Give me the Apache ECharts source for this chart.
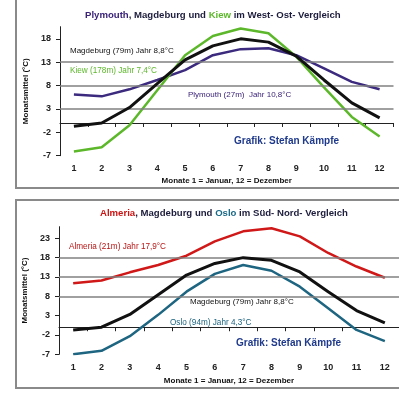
<!DOCTYPE html>
<html>
<head>
<meta charset="utf-8">
<script src="https://cdn.jsdelivr.net/npm/echarts@6/dist/echarts.min.js"></script>
<style>
  html, body { margin: 0; padding: 0; background: #fff; }
  #chart { width: 399px; height: 400px; }
</style>
</head>
<body>
<div id="chart"></div>
<script>
// Monate
var months = ['1', '2', '3', '4', '5', '6', '7', '8', '9', '10', '11', '12'];

// oben: West-Ost
var plymouth = [6.1, 5.7, 7.2, 9.2, 11.3, 14.5, 15.8, 16.0, 14.5, 11.7, 8.8, 7.2];
var magdeburg = [-0.7, 0.0, 3.3, 8.4, 13.5, 16.5, 18.0, 17.3, 14.3, 9.2, 4.3, 1.1];
var kiew = [-6.1, -5.2, -0.5, 7.0, 14.5, 18.6, 20.2, 19.2, 14.2, 7.6, 1.3, -2.9];

// unten: Sued-Nord
var almeria = [11.4, 12.1, 14.2, 16.1, 18.5, 22.2, 24.8, 25.6, 23.5, 19.2, 15.7, 12.8];
var oslo = [-7.0, -6.1, -2.3, 3.2, 9.2, 13.8, 16.1, 14.6, 10.5, 4.9, -0.7, -3.6];

// Hilfslinien
var topGridLines = [3, 8, 13];
var bottomGridLines = [8, 13, 18];

var FONT = '"Liberation Sans", Arial, sans-serif';
var DARK = '#1c1c3c';

var chart = echarts.init(document.getElementById('chart'), null, { renderer: 'canvas' });

function hLines(vals) {
  return {
    silent: true,
    symbol: 'none',
    label: { show: false },
    lineStyle: { color: '#808080', width: 1.5, type: 'solid' },
    data: vals.map(function (v) { return { yAxis: v }; })
  };
}

function xAxisCfg(gridIndex, nameGap, labelMargin) {
  return {
    gridIndex: gridIndex,
    type: 'category',
    data: months,
    boundaryGap: true,
    name: 'Monate 1 = Januar, 12 = Dezember',
    nameLocation: 'middle',
    nameGap: nameGap,
    nameTextStyle: { fontFamily: FONT, fontSize: 8, fontWeight: 'bold', color: '#111' },
    axisLine: { lineStyle: { color: '#222', width: 1 } },
    axisTick: { show: true, length: 4, lineStyle: { color: '#222' } },
    axisLabel: { fontFamily: FONT, fontSize: 9, fontWeight: 'bold', color: '#222', margin: labelMargin },
    splitLine: { show: false }
  };
}

function yAxisCfg(gridIndex, max) {
  return {
    gridIndex: gridIndex,
    type: 'value',
    min: -7,
    max: max,
    interval: 5,
    name: 'Monatsmittel (°C)',
    nameLocation: 'middle',
    nameGap: 17,
    nameTextStyle: { fontFamily: FONT, fontSize: 8, fontWeight: 'bold', color: '#111' },
    axisLine: { show: true, lineStyle: { color: '#222', width: 1 } },
    axisTick: { show: true, length: 4, lineStyle: { color: '#222' } },
    axisLabel: { fontFamily: FONT, fontSize: 9, fontWeight: 'bold', color: '#222', margin: 9, showMaxLabel: false },
    splitLine: { show: false }
  };
}

function lineSeries(name, data, color, width, idx, z) {
  return {
    name: name,
    type: 'line',
    xAxisIndex: idx,
    yAxisIndex: idx,
    data: data,
    symbol: 'none',
    smooth: false,
    z: z,
    lineStyle: { color: color, width: width },
    itemStyle: { color: color }
  };
}

function note(text, x, y, color, size, bold) {
  return {
    type: 'text',
    left: x,
    top: y,
    z: 50,
    style: {
      text: text,
      fill: color,
      font: (bold ? 'bold ' : '') + size + 'px ' + FONT
    }
  };
}

var option = {
  backgroundColor: '#fff',
  animation: false,
  title: [{
    left: 80,
    top: 5,
    text: '{p|Plymouth}{d|, Magdeburg und }{k|Kiew}{d| im West- Ost- Vergleich}',
    textStyle: {
      rich: {
        p: { fontFamily: FONT, fontSize: 9.6, fontWeight: 'bold', color: '#3a2378' },
        d: { fontFamily: FONT, fontSize: 9.6, fontWeight: 'bold', color: DARK },
        k: { fontFamily: FONT, fontSize: 9.6, fontWeight: 'bold', color: '#5cb82a' }
      }
    }
  }, {
    left: 95,
    top: 203,
    text: '{a|Almeria}{d|, Magdeburg und }{o|Oslo}{d| im Süd- Nord- Vergleich}',
    textStyle: {
      rich: {
        a: { fontFamily: FONT, fontSize: 9.6, fontWeight: 'bold', color: '#cc1414' },
        d: { fontFamily: FONT, fontSize: 9.6, fontWeight: 'bold', color: DARK },
        o: { fontFamily: FONT, fontSize: 9.6, fontWeight: 'bold', color: '#1a6a88' }
      }
    }
  }],
  grid: [
    { left: 60, top: 26.7, width: 333.5, height: 129 },
    { left: 59, top: 226.7, width: 341, height: 127.6 }
  ],
  xAxis: [xAxisCfg(0, 21, 8), xAxisCfg(1, 22, 9)],
  yAxis: [yAxisCfg(0, 20.6), yAxisCfg(1, 26)],
  series: [
    Object.assign(lineSeries('Plymouth', plymouth, '#3b2a7e', 2.5, 0, 3), { markLine: hLines(topGridLines) }),
    lineSeries('Kiew', kiew, '#5cb82a', 2.5, 0, 4),
    lineSeries('Magdeburg', magdeburg, '#111111', 3, 0, 5),
    Object.assign(lineSeries('Almeria', almeria, '#d01818', 2.5, 1, 3), { markLine: hLines(bottomGridLines) }),
    lineSeries('Oslo', oslo, '#1d6580', 2.5, 1, 4),
    lineSeries('Magdeburg', magdeburg, '#111111', 3, 1, 5)
  ],
  graphic: [
    { type: 'rect', z: 0, shape: { x: 16, y: -2, width: 400, height: 190 }, style: { fill: 'none', stroke: '#8a8a8a', lineWidth: 2 } },
    { type: 'rect', z: 0, shape: { x: 16, y: 200, width: 400, height: 188 }, style: { fill: 'none', stroke: '#8a8a8a', lineWidth: 2 } },
    note('Magdeburg (79m) Jahr 8,8°C', 70, 46.5, '#111', 8, false),
    note('Kiew (178m) Jahr 7,4°C', 70, 66.5, '#5cb82a', 8.2, false),
    note('Plymouth (27m)  Jahr 10,8°C', 188, 90.5, '#3a2378', 8, false),
    note('Grafik: Stefan Kämpfe', 234, 136.5, '#1f3a8c', 10, true),
    note('Almeria (21m) Jahr 17,9°C', 69, 243, '#b81414', 8.2, false),
    note('Magdeburg (79m) Jahr 8,8°C', 190, 298, '#111', 8, false),
    note('Oslo (94m) Jahr 4,3°C', 170, 319, '#1d6580', 8.2, false),
    note('Grafik: Stefan Kämpfe', 236, 338.5, '#1f3a8c', 10, true)
  ]
};

chart.setOption(option);
</script>
</body>
</html>
